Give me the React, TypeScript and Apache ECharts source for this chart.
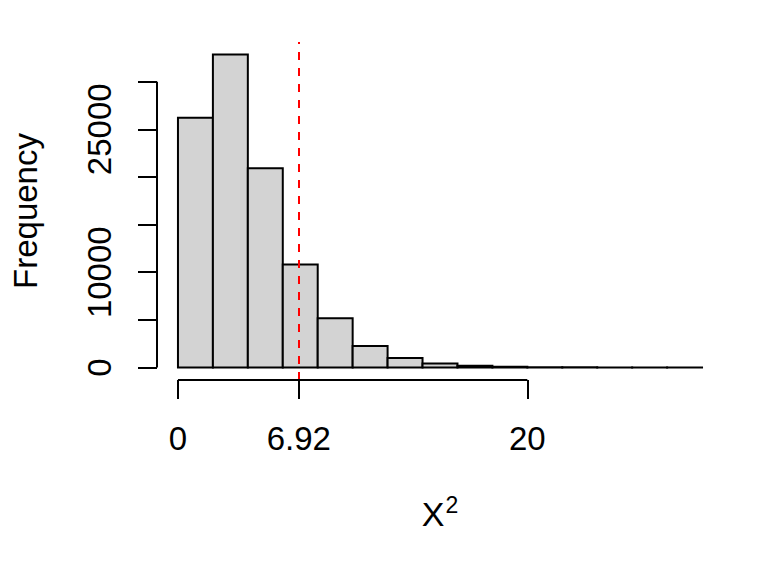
import React, { useEffect, useRef } from "react";
import * as echarts from "echarts";

// Histogram bin edges and counts
const binEdges = [0, 2, 4, 6, 8, 10, 12, 14, 16, 18, 20, 22, 24, 26, 28, 30];
const counts = [26200, 32850, 20900, 10800, 5180, 2250, 990, 430, 190, 80, 35, 14, 6, 3, 1];

const xTickValues = [0, 6.92, 20];
const yTickValues = [0, 5000, 10000, 15000, 20000, 25000, 30000];
const yLabelValues = [0, 10000, 25000];
const cutoff = 6.92;

const FONT = "Liberation Sans, Arial, sans-serif";

export default function App() {
  const ref = useRef<HTMLDivElement>(null);

  useEffect(() => {
    if (!ref.current) return;
    const chart = echarts.init(ref.current, undefined, { renderer: "svg" });

    const xMinData = binEdges[0];
    const xMaxData = binEdges[binEdges.length - 1];
    const xPad = (xMaxData - xMinData) * 0.04;
    const yMaxData = Math.max(...counts);
    const yPad = yMaxData * 0.04;
    const xMin = xMinData - xPad;
    const xMax = xMaxData + xPad;
    const yMin = -yPad;
    const yMax = yMaxData + yPad;

    const barData = counts.map((c, i) => [binEdges[i], binEdges[i + 1], c]);

    const axisStyle = { color: "#000", width: 2 };

    chart.setOption({
      animation: false,
      backgroundColor: "#fff",
      grid: { left: 157, right: 45, top: 42, bottom: 196, containLabel: false },
      xAxis: {
        type: "value",
        min: xMin,
        max: xMax,
        splitLine: { show: false },
        axisLine: { show: false, onZero: false },
        axisTick: {
          show: true,
          length: 19,
          customValues: xTickValues,
          lineStyle: axisStyle,
        },
        axisLabel: {
          customValues: xTickValues,
          formatter: (v: number) => (Math.abs(v - 6.92) < 1e-9 ? "6.92" : String(v)),
          fontSize: 33,
          fontFamily: FONT,
          color: "#000",
          margin: 42,
        },
        name: "{a|X}{b|2}",
        nameLocation: "middle",
        nameGap: 113,
        nameTextStyle: {
          rich: {
            a: { fontSize: 34, fontFamily: FONT, color: "#000" },
            b: { fontSize: 23, fontFamily: FONT, color: "#000", verticalAlign: "top", padding: [0, 0, 19, 1] },
          },
        },
      },
      yAxis: {
        type: "value",
        min: yMin,
        max: yMax,
        splitLine: { show: false },
        axisLine: { show: false, onZero: false },
        axisTick: {
          show: true,
          length: 19,
          customValues: yTickValues,
          lineStyle: axisStyle,
        },
        axisLabel: {
          customValues: yLabelValues,
          formatter: (v: number) => String(v),
          rotate: 90,
          fontSize: 33,
          fontFamily: FONT,
          color: "#000",
          margin: 41,
        },
        name: "Frequency",
        nameLocation: "middle",
        nameRotate: 90,
        nameGap: 115,
        nameTextStyle: { fontSize: 33, fontFamily: FONT, color: "#000" },
      },
      series: [
        {
          type: "custom",
          clip: false,
          data: barData,
          encode: { x: [0, 1], y: 2 },
          renderItem: (params: any, api: any) => {
            const x0 = api.value(0);
            const x1 = api.value(1);
            const c = api.value(2);
            const p0 = api.coord([x0, c]);
            const p1 = api.coord([x1, 0]);
            return {
              type: "rect",
              shape: { x: p0[0], y: p0[1], width: p1[0] - p0[0], height: p1[1] - p0[1] },
              style: { fill: "#d3d3d3", stroke: "#000", lineWidth: 2 },
            };
          },
          markLine: {
            silent: true,
            symbol: "none",
            label: { show: false },
            animation: false,
            data: [
              {
                xAxis: cutoff,
                lineStyle: { color: "#ff0000", width: 2, type: [8, 8], dashOffset: 0 },
              },
              [
                { coord: [xTickValues[0], yMin], lineStyle: { color: "#000", width: 2, type: "solid" } },
                { coord: [xTickValues[xTickValues.length - 1], yMin] },
              ],
              [
                { coord: [xMin, yTickValues[0]], lineStyle: { color: "#000", width: 2, type: "solid" } },
                { coord: [xMin, yTickValues[yTickValues.length - 1]] },
              ],
            ],
          },
        },
      ],
    });

    return () => chart.dispose();
  }, []);

  return (
    <div
      ref={ref}
      style={{ position: "absolute", left: 0, top: 0, width: 768, height: 576, background: "#fff" }}
    />
  );
}
